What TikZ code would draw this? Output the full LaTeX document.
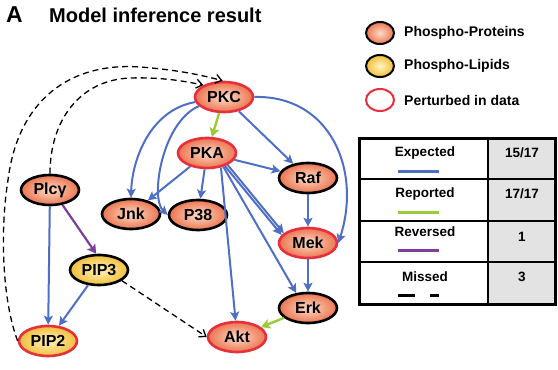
\documentclass[tikz,border=0pt]{standalone}
\usepackage{fontspec}
\setmainfont{Liberation Sans}
\usetikzlibrary{shapes.geometric,arrows.meta}
\definecolor{protin}{HTML}{FCDCC8}
\definecolor{protout}{HTML}{EC7550}
\definecolor{lipin}{HTML}{FFF4C0}
\definecolor{lipout}{HTML}{F2BE3A}
\definecolor{redline}{HTML}{E8303C}
\definecolor{blueE}{HTML}{4F6FC4}
\definecolor{greenR}{HTML}{9CCB3A}
\definecolor{purpleR}{HTML}{7D3F98}
\begin{document}
\begin{tikzpicture}[x=1pt,y=-1pt,
  prot/.style={ellipse, draw=black, line width=2.6pt, inner color=protin, outer color=protout,
    minimum width=58pt, minimum height=30pt, inner sep=0pt, font=\bfseries\fontsize{16}{16}\selectfont},
  pert/.style={draw=redline},
  lip/.style={inner color=lipin, outer color=lipout},
  legell/.style={ellipse, line width=2pt, minimum width=28pt, minimum height=22pt, inner sep=0pt},
  legtxt/.style={anchor=west, inner sep=0pt, font=\bfseries\fontsize{14}{14}\selectfont},
  tabtxt/.style={inner sep=0pt, font=\bfseries\fontsize{13.5}{14}\selectfont},
  expE/.style={draw=blueE, line width=2pt, -{Stealth[length=9pt,width=9pt,inset=2pt]}},
  repE/.style={draw=greenR, line width=2.4pt, -{Stealth[length=9pt,width=10pt,inset=2pt]}},
  revE/.style={draw=purpleR, line width=2.2pt, -{Stealth[length=9pt,width=10pt,inset=2pt]}},
  misE/.style={draw=black, line width=1.3pt, dash pattern=on 6pt off 4pt, -{Straight Barb[length=6pt,width=9pt]}},
]
\useasboundingbox (0,0) rectangle (558,370);

% title
\node[anchor=west, inner sep=0pt, font=\bfseries\fontsize{23}{23}\selectfont] (lblA) at (6,15) {A};
\node[anchor=west, inner sep=0pt, font=\bfseries\fontsize{20}{20}\selectfont] (title) at (49,15) {Model inference result};

% nodes
\node[prot, pert] (PKC) at (224,97) {PKC};
\node[prot, pert] (PKA) at (207,153) {PKA};
\node[prot] (Raf) at (308,178) {Raf};
\node[prot] (Jnk) at (131,214) {Jnk};
\node[prot] (P38) at (198,215) {P38};
\node[prot] (Plc) at (50,190) {Plcγ};
\node[prot, lip] (PIP3) at (99,270) {PIP3};
\node[prot, lip, pert] (PIP2) at (48,341) {PIP2};
\node[prot, pert] (Mek) at (308,243) {Mek};
\node[prot] (Erk) at (308,308) {Erk};
\node[prot, pert] (Akt) at (237,337) {Akt};

% expected (blue)
\draw[expE] (PKC.190) .. controls (150,110) and (132,160) .. (Jnk.north);
\draw[expE] (PKC.200) .. controls (162,122) and (150,198) .. (P38.west);
\draw[expE] (PKC) -- (Raf);
\draw[expE] (PKC.east) .. controls (330,95) and (362,170) .. (Mek.east);
\draw[expE] (PKA) -- (Jnk);
\draw[expE] (PKA) -- (P38);
\draw[expE] (PKA) -- (Raf);
\draw[expE] (PKA.-30) -- (Mek.158);
\draw[expE] (PKA.-36) -- (Mek.163);
\draw[expE] (PKA.-40) -- (Erk.128);
\draw[expE] (PKA.-46) -- (Akt.95);
\draw[expE] (Raf) -- (Mek);
\draw[expE] (Mek) -- (Erk);
\draw[expE] (Plc) -- (PIP2);
\draw[expE] (PIP3) -- (PIP2);

% reported (green)
\draw[repE] (PKC) -- (PKA);
\draw[repE] (Erk) -- (Akt);

% reversed (purple)
\draw[revE] (Plc.-50) -- (PIP3.100);

% missed (dashed)
\draw[misE] (PIP2.west) .. controls (2,300) and (0,230) .. (8,180)
  .. controls (18,100) and (70,62) .. (140,67)
  .. controls (180,70) and (205,76) .. (PKC.95);
\draw[misE] (Plc.north) .. controls (50,120) and (80,80) .. (130,78)
  .. controls (165,77) and (188,82) .. (PKC.150);
\draw[misE] (PIP3.-25) -- (Akt.west);

% legend
\node[legell, draw=black, inner color=protin, outer color=protout] (lg1) at (380,33) {};
\node[legell, draw=black, inner color=lipin, outer color=lipout] (lg2) at (380,66) {};
\node[legell, draw=redline, fill=white] (lg3) at (380,100) {};
\node[legtxt] (lt1) at (404,33) {Phospho-Proteins};
\node[legtxt] (lt2) at (404,66) {Phospho-Lipids};
\node[legtxt] (lt3) at (404,100) {Perturbed in data};

% table
\fill[black!11] (488,138) rectangle (555.5,304);
\draw[line width=1.5pt] (488,138) -- (488,304);
\draw[line width=1.5pt] (359,179) -- (555.5,179);
\draw[line width=1.5pt] (359,221) -- (555.5,221);
\draw[line width=1.5pt] (359,262) -- (555.5,262);
\draw[line width=3pt] (359,138) rectangle (555.5,304);

\node[tabtxt] (t1) at (425,153) {Expected};
\node[tabtxt] (t2) at (425,194) {Reported};
\node[tabtxt] (t3) at (425,232) {Reversed};
\node[tabtxt] (t4) at (425,277) {Missed};
\node[tabtxt] (v1) at (522,153) {15/17};
\node[tabtxt] (v2) at (522,194) {17/17};
\node[tabtxt] (v3) at (522,237) {1};
\node[tabtxt] (v4) at (522,277) {3};

\draw[blueE, line width=3pt] (398,171) -- (439,171);
\draw[greenR, line width=3pt] (398,212) -- (439,212);
\draw[purpleR, line width=3pt] (398,250) -- (439,250);
\draw[black, line width=3pt] (398,295) -- (415,295);
\draw[black, line width=3pt] (430,295) -- (439,295);
\end{tikzpicture}
\end{document}
